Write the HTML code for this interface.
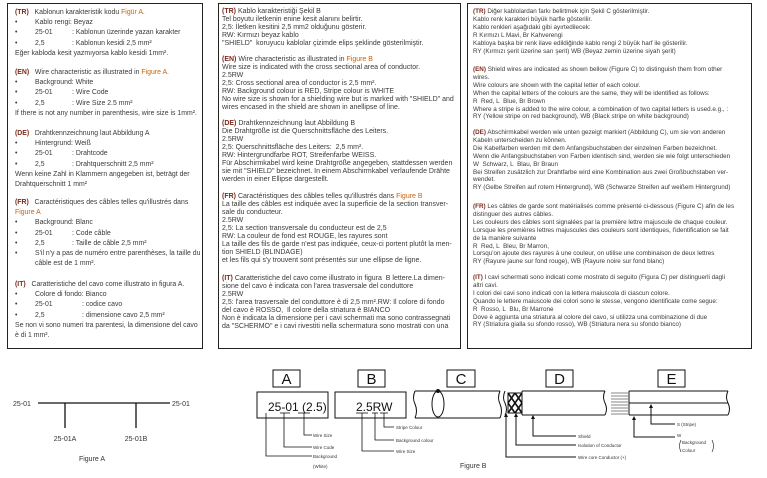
<!DOCTYPE html>
<html><head><meta charset="utf-8"><style>
html,body{margin:0;padding:0;background:#fff;}
body{width:767px;height:478px;position:relative;overflow:hidden;font-family:"Liberation Sans",sans-serif;color:#3a3a3a;}
.box{position:absolute;border:1.3px solid #222;box-sizing:border-box;}
.s{position:absolute;white-space:nowrap;}
.c1{font-size:6.9px;line-height:10.2px;left:15px;}
.c2{font-size:7px;line-height:8px;left:222px;}
.c3{font-size:6.3px;line-height:7.9px;left:473px;}
.s b{color:#7a2a1a;font-weight:bold;}
.f{color:#c8620a;}
.bl{display:inline-block;width:20px;}
.cd{display:inline-block;width:37px;}
.cd2{display:inline-block;width:47px;}
</style></head><body>
<div class="box" style="left:7px;top:3px;width:196px;height:346px"></div>
<div class="box" style="left:218px;top:3px;width:243px;height:346px"></div>
<div class="box" style="left:467px;top:3px;width:285px;height:346px"></div>

<div class="s c1" style="top:8px"><b>(TR)</b>&nbsp;&nbsp; Kablonun karakteristik kodu <span class="f">Figür A.</span><br>
<span class="bl">•</span>Kablo rengi: Beyaz<br>
<span class="bl">•</span><span class="cd">25-01</span>: Kablonun üzerinde yazan karakter<br>
<span class="bl">•</span><span class="cd">2,5</span>: Kablonun kesidi 2,5 mm²<br>
Eğer kabloda kesit yazmıyorsa kablo kesidi 1mm².</div>
<div class="s c1" style="top:68px"><b>(EN)</b>&nbsp;&nbsp; Wire characteristic as illustrated in <span class="f">Figure A.</span><br>
<span class="bl">•</span>Background: White<br>
<span class="bl">•</span><span class="cd">25-01</span>: Wire Code<br>
<span class="bl">•</span><span class="cd">2,5</span>: Wire Size 2.5 mm²<br>
If there is not any number in parenthesis, wire size is 1mm².</div>
<div class="s c1" style="top:129px"><b>(DE)</b>&nbsp;&nbsp; Drahtkennzeichnung laut Abbildung A<br>
<span class="bl">•</span>Hintergrund: Weiß<br>
<span class="bl">•</span><span class="cd">25-01</span>: Drahtcode<br>
<span class="bl">•</span><span class="cd">2,5</span>: Drahtquerschnitt 2,5 mm²<br>
Wenn keine Zahl in Klammern angegeben ist, beträgt der<br>
Drahtquerschnitt 1 mm²</div>
<div class="s c1" style="top:198px"><b>(FR)</b>&nbsp;&nbsp; Caractéristiques des câbles telles qu'illustrés dans<br>
<span class="f">Figure A</span><br>
<span class="bl">•</span>Background: Blanc<br>
<span class="bl">•</span><span class="cd">25-01</span>: Code câble<br>
<span class="bl">•</span><span class="cd">2,5</span>: Taille de câble 2,5 mm²<br>
<span class="bl">•</span>S'il n'y a pas de numéro entre parenthèses, la taille du<br>
<span class="bl"></span>câble est de 1 mm².</div>
<div class="s c1" style="top:280px"><b>(IT)</b>&nbsp;&nbsp; Caratteristiche del cavo come illustrato in figura A.<br>
<span class="bl">•</span>Colore di fondo: Bianco<br>
<span class="bl">•</span><span class="cd2">25-01</span>: codice cavo<br>
<span class="bl">•</span><span class="cd2">2,5</span>: dimensione cavo 2,5 mm²<br>
Se non vi sono numeri tra parentesi, la dimensione del cavo<br>
è di 1 mm².</div>

<div class="s c2" style="top:8px"><b>(TR)</b> Kablo karakteristiği Şekil B<br>
Tel boyutu iletkenin enine kesit alanını belirtir.<br>
2,5: İletken kesitini 2,5 mm2 olduğunu gösterir.<br>
RW: Kırmızı beyaz kablo<br>
"SHIELD"&nbsp; koruyucu kablolar çizimde elips şeklinde gösterilmiştir.</div>
<div class="s c2" style="top:56px"><b>(EN)</b> Wire characteristic as illustrated in <span class="f">Figure B</span><br>
Wire size is indicated with the cross sectional area of conductor.<br>
2.5RW<br>
2,5: Cross sectional area of conductor is 2,5 mm².<br>
RW: Background colour is RED, Stripe colour is WHITE<br>
No wire size is shown for a shielding wire but is marked with "SHIELD" and<br>
wires encased in the shield are shown in anellipse of line.</div>
<div class="s c2" style="top:120px"><b>(DE)</b> Drahtkennzeichnung laut Abbildung B<br>
Die Drahtgröße ist die Querschnittsfläche des Leiters.<br>
2.5RW<br>
2,5: Querschnittsfläche des Leiters:&nbsp; 2,5 mm².<br>
RW: Hintergrundfarbe ROT, Streifenfarbe WEISS.<br>
Für Abschirmkabel wird keine Drahtgröße angegeben, stattdessen werden<br>
sie mit "SHIELD" bezeichnet. In einem Abschirmkabel verlaufende Drähte<br>
werden in einer Ellipse dargestellt.</div>
<div class="s c2" style="top:193px"><b>(FR)</b> Caractéristiques des câbles telles qu'illustrés dans <span class="f">Figure B</span><br>
La taille des câbles est indiquée avec la superficie de la section transver-<br>
sale du conducteur.<br>
2.5RW<br>
2,5: La section transversale du conducteur est de 2,5<br>
RW: La couleur de fond est ROUGE, les rayures sont<br>
La taille des fils de garde n'est pas indiquée, ceux-ci portent plutôt la men-<br>
tion SHIELD (BLINDAGE)<br>
et les fils qui s'y trouvent sont présentés sur une ellipse de ligne.</div>
<div class="s c2" style="top:275px"><b>(IT)</b> Caratteristiche del cavo come illustrato in figura&nbsp; B lettere.La dimen-<br>
sione del cavo è indicata con l'area trasversale del conduttore<br>
2.5RW<br>
2,5: l'area trasversale del conduttore è di 2,5 mm².RW: Il colore di fondo<br>
del cavo è ROSSO,&nbsp; Il colore della striatura è BIANCO<br>
Non è indicata la dimensione per i cavi schermati ma sono contrassegnati<br>
da "SCHERMO" e i cavi rivestiti nella schermatura sono mostrati con una</div>

<div class="s c3" style="top:8px"><b>(TR)</b> Diğer kablolardan farkı belirtmek için Şekil C gösterilmiştir.<br>
Kablo renk karakteri büyük harfle gösterilir.<br>
Kablo renkleri aşağıdaki gibi ayırtedilecek:<br>
R Kırmızı L Mavi, Br Kahverengi<br>
Kabloya başka bir renk ilave edildiğinde kablo rengi 2 büyük harf ile gösterilir.<br>
RY (Kırmızı şerit üzerine sarı şerit) WB (Beyaz zemin üzerine siyah şerit)</div>
<div class="s c3" style="top:66px"><b>(EN)</b> Shield wires are indicated as shown bellow (Figure C) to distinguish them from other<br>
wires.<br>
Wire colours are shown with the capital letter of each colour.<br>
When the capital letters of the colours are the same, they will be identified as follows:<br>
R&nbsp; Red, L&nbsp; Blue, Br Brown<br>
Where a stripe is added to the wire colour, a combination of two capital letters is used.e.g., :<br>
RY (Yellow stripe on red background), WB (Black stripe on white background)</div>
<div class="s c3" style="top:129px"><b>(DE)</b> Abschirmkabel werden wie unten gezeigt markiert (Abbildung C), um sie von anderen<br>
Kabeln unterscheiden zu können.<br>
Die Kabelfarben werden mit dem Anfangsbuchstaben der einzelnen Farben bezeichnet.<br>
Wenn die Anfangsbuchstaben von Farben identisch sind, werden sie wie folgt unterschieden<br>
W&nbsp; Schwarz, L&nbsp; Blau, Br Braun<br>
Bei Streifen zusätzlich zur Drahtfarbe wird eine Kombination aus zwei Großbuchstaben ver-<br>
wendet.<br>
RY (Gelbe Streifen auf rotem Hintergrund), WB (Schwarze Streifen auf weißem Hintergrund)</div>
<div class="s c3" style="top:203px"><b>(FR)</b> Les câbles de garde sont matérialisés comme présenté ci-dessous (Figure C) afin de les<br>
distinguer des autres câbles.<br>
Les couleurs des câbles sont signalées par la première lettre majuscule de chaque couleur.<br>
Lorsque les premières lettres majuscules des couleurs sont identiques, l'identification se fait<br>
de la manière suivante<br>
R&nbsp; Red, L&nbsp; Bleu, Br Marron,<br>
Lorsqu'on ajoute des rayures à une couleur, on utilise une combinaison de deux lettres<br>
RY (Rayure jaune sur fond rouge), WB (Rayure noire sur fond blanc)</div>
<div class="s c3" style="top:274px"><b>(IT)</b> I cavi schermati sono indicati come mostrato di seguito (Figura C) per distinguerli dagli<br>
altri cavi.<br>
I colori dei cavi sono indicati con la lettera maiuscola di ciascun colore.<br>
Quando le lettere maiuscole dei colori sono le stesse, vengono identificate come segue:<br>
R&nbsp; Rosso, L&nbsp; Blu, Br Marrone<br>
Dove è aggiunta una striatura al colore del cavo, si utilizza una combinazione di due<br>
RY (Striatura gialla su sfondo rosso), WB (Striatura nera su sfondo bianco)</div>

<svg width="767" height="478" style="position:absolute;left:0;top:0" font-family="Liberation Sans, sans-serif" fill="none" stroke="#111">
<g stroke-width="1.3">
<line x1="38" y1="403" x2="170" y2="403"/>
<line x1="65" y1="403" x2="65" y2="428"/>
<line x1="136" y1="403" x2="136" y2="428"/>
</g>
<g fill="#333" stroke="none" font-size="7">
<text x="13" y="406">25-01</text>
<text x="172" y="406">25-01</text>
<text x="65" y="441" text-anchor="middle">25-01A</text>
<text x="136" y="441" text-anchor="middle">25-01B</text>
<text x="92" y="461" text-anchor="middle">Figure A</text>
<text x="460" y="468">Figure B</text>
</g>
<g stroke-width="1">
<rect x="273" y="370" width="27" height="17"/>
<rect x="358" y="370" width="27" height="17"/>
<rect x="447" y="370" width="28" height="17"/>
<rect x="546" y="370" width="27" height="17"/>
<rect x="658" y="370" width="27" height="17"/>
<rect x="257" y="392" width="71" height="26"/>
<rect x="335" y="392" width="71" height="26"/>
</g>
<g fill="#111" stroke="none" font-size="15" text-anchor="middle">
<text x="286.5" y="384">A</text><text x="371.5" y="384">B</text><text x="461" y="384">C</text><text x="559.5" y="384">D</text><text x="671.5" y="384">E</text>
</g>
<g fill="#111" stroke="none" font-size="12">
<text x="268" y="411">25-01 (2.5)</text>
<text x="356" y="411">2.5RW</text>
</g>
<g stroke-width="0.8">
<polyline points="266,413 266,456 312,456"/>
<polyline points="280,413 290,413"/><polyline points="284,413 284,447 312,447"/>
<polyline points="298,413 310,413"/><polyline points="304,413 304,435 312,435"/>
<polyline points="356,413 368,413"/><polyline points="362,413 362,451 394,451"/>
<polyline points="372,413 378,413"/><polyline points="375,413 375,440 394,440"/>
<polyline points="380,413 388,413"/><polyline points="384,413 384,427 394,427"/>
</g>
<g fill="#333" stroke="none" font-size="4.5">
<text x="313" y="437">Wire Size</text><text x="313" y="449">Wire Code</text>
<text x="313" y="458">Background</text><text x="313" y="468">(White)</text>
<text x="396" y="429">Stripe Colour</text><text x="396" y="442">Background colour</text><text x="396" y="453">Wire Size</text>
<text x="578" y="438">Shield</text><text x="578" y="447">Isolation of Conductor</text><text x="578" y="459">Wire core Conductor (+)</text>
<text x="677" y="426">S (Stripe)</text><text x="677" y="437">W</text><text x="682" y="444">Background</text><text x="682" y="452">Colour</text>
</g>
<g stroke-width="1">
<line x1="415" y1="391" x2="500" y2="391"/><line x1="415" y1="418" x2="500" y2="418"/>
<path d="M415 391 q-3 7 0 13 q3 7 0 14"/><path d="M500 391 q-3 7 0 13 q3 7 0 14"/>
<ellipse cx="438" cy="404" rx="6" ry="13"/>
</g>
<circle cx="438" cy="391" r="2" fill="#111" stroke="none"/>
<g stroke-width="1">
<path d="M505 391 q-3 7 0 12 q3 7 0 12"/>
<rect x="508" y="393" width="14" height="20" fill="#fff"/>
<path d="M508 393 l14 20 M508 403 l7 10 M515 393 l7 10 M522 393 l-14 20 M515 393 l-7 10 M522 403 l-7 10" stroke-width="1.6"/>
<line x1="522" y1="391" x2="605" y2="391"/><line x1="522" y1="415" x2="605" y2="415"/>
<line x1="522" y1="391" x2="522" y2="415"/>
<path d="M605 391 q-3 6 0 12 q3 6 0 12"/>
<polyline points="533,417 533,436 576,436"/>
<polyline points="516,414 516,445 576,445"/>
<polyline points="506,414 506,457 576,457"/>
</g>
<g fill="#111" stroke="none">
<path d="M533 415 l-2 4 h4z"/><path d="M516 413 l-2 4 h4z"/><path d="M506 413 l-2 4 h4z"/>
<path d="M651 404 l-2 4 h4z"/><path d="M634 416 l-2 4 h4z"/>
</g>
<g stroke-width="0.6">
<line x1="611" y1="393" x2="628" y2="393"/><line x1="611" y1="396" x2="628" y2="396"/><line x1="611" y1="399" x2="628" y2="399"/><line x1="611" y1="402" x2="628" y2="402"/><line x1="611" y1="405" x2="628" y2="405"/><line x1="611" y1="408" x2="628" y2="408"/><line x1="611" y1="411" x2="628" y2="411"/><line x1="611" y1="414" x2="628" y2="414"/>
</g>
<g stroke-width="1">
<line x1="629" y1="391" x2="728" y2="391"/><line x1="629" y1="403" x2="728" y2="403"/><line x1="629" y1="415" x2="728" y2="415"/>
<line x1="629" y1="391" x2="629" y2="415"/>
<path d="M728 391 q-3 6 0 12 q3 6 0 12"/>
<polyline points="651,406 651,424 675,424"/>
<polyline points="634,418 634,437 675,437"/>
<path d="M681 440 q-3 6 0 12" stroke-width="0.6"/><path d="M712 440 q3 6 0 12" stroke-width="0.6"/>
</g>
</svg>
</body></html>
